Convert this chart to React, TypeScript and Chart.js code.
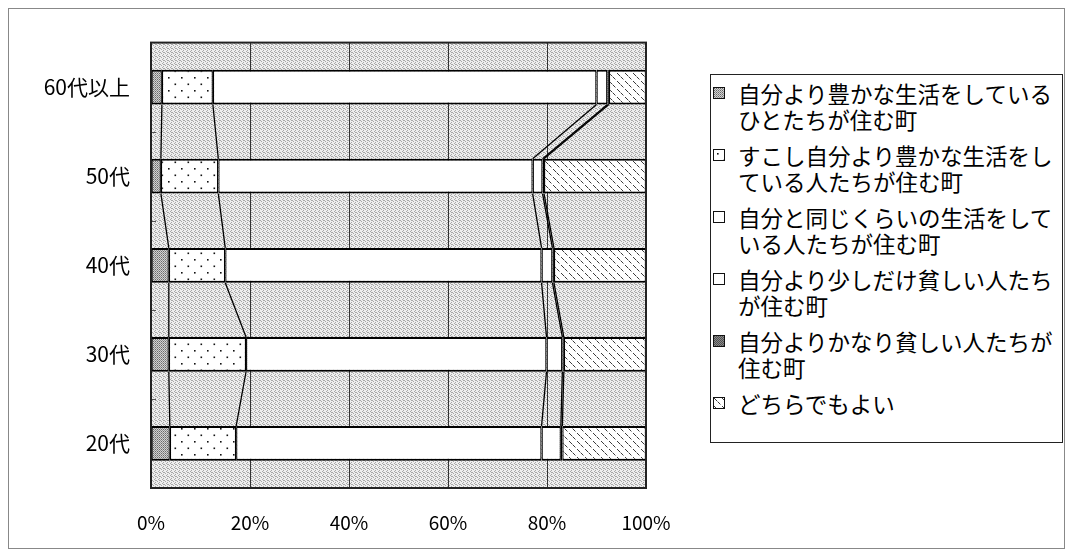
import React, { useEffect, useMemo, useRef } from "react";
import { Chart, registerables } from "chart.js";

Chart.register(...registerables);

// Age groups, top to bottom
const AGE_GROUPS = ["60代以上", "50代", "40代", "30代", "20代"];

// Share of answers per age group (%)
const MUCH_RICHER = [2.2, 2.0, 3.6, 3.6, 3.8];
const SOMEWHAT_RICHER = [10.3, 11.6, 11.4, 15.6, 13.4];
const SIMILAR = [77.5, 63.5, 63.9, 60.7, 61.7];
const SLIGHTLY_POORER = [2.2, 2.0, 2.2, 3.2, 3.9];
const MUCH_POORER = [0.3, 0.3, 0.3, 0.3, 0.3];
const NO_PREFERENCE = [7.5, 20.6, 18.6, 16.6, 16.9];

const SERIES_NAMES = [
  "自分より豊かな生活をしている\nひとたちが住む町",
  "すこし自分より豊かな生活をし\nている人たちが住む町",
  "自分と同じくらいの生活をして\nいる人たちが住む町",
  "自分より少しだけ貧しい人たち\nが住む町",
  "自分よりかなり貧しい人たちが\n住む町",
  "どちらでもよい",
];

const X_TICK_LABELS = ["0%", "20%", "40%", "60%", "80%", "100%"];

const CJK = "'Noto Sans CJK JP', sans-serif";

type Tiles = Record<string, HTMLCanvasElement>;

function tile(w: number, h: number, paint: (c: CanvasRenderingContext2D) => void) {
  const cv = document.createElement("canvas");
  cv.width = w;
  cv.height = h;
  const c = cv.getContext("2d")!;
  paint(c);
  return cv;
}

function px(c: CanvasRenderingContext2D, color: string, pts: number[][]) {
  c.fillStyle = color;
  pts.forEach(([x, y]) => c.fillRect(x, y, 1, 1));
}

function makeTiles(): Tiles {
  return {
    plot: tile(4, 4, (c) => {
      c.fillStyle = "#eeeeee";
      c.fillRect(0, 0, 4, 4);
      px(c, "#a8a8a8", [[0, 0], [2, 1], [1, 2], [3, 3], [2, 3]]);
    }),
    muchRicher: tile(2, 2, (c) => {
      c.fillStyle = "#d2d2d2";
      c.fillRect(0, 0, 2, 2);
      px(c, "#6a6a6a", [[0, 0]]);
      px(c, "#909090", [[1, 1]]);
    }),
    somewhatRicher: tile(13, 13, (c) => {
      c.fillStyle = "#ffffff";
      c.fillRect(0, 0, 13, 13);
      c.fillStyle = "#111";
      c.fillRect(3, 3, 1.6, 1.6);
      c.fillRect(9.5, 9.5, 1.6, 1.6);
    }),
    white: tile(2, 2, (c) => {
      c.fillStyle = "#ffffff";
      c.fillRect(0, 0, 2, 2);
    }),
    muchPoorer: tile(2, 2, (c) => {
      c.fillStyle = "#8a8a8a";
      c.fillRect(0, 0, 2, 2);
      px(c, "#505050", [[0, 0], [1, 1]]);
    }),
    noPreference: tile(8, 8, (c) => {
      c.fillStyle = "#ffffff";
      c.fillRect(0, 0, 8, 8);
      px(c, "#3a3a3a", [[0, 0], [1, 1], [2, 2], [4, 4], [5, 5]]);
      px(c, "#a8a8a8", [[3, 3], [6, 6]]);
    }),
  };
}

const SERIES_TILES = ["muchRicher", "somewhatRicher", "white", "white", "muchPoorer", "noPreference"];
const SERIES_VALUES = [MUCH_RICHER, SOMEWHAT_RICHER, SIMILAR, SLIGHTLY_POORER, MUCH_POORER, NO_PREFERENCE];

export default function App() {
  const canvasRef = useRef<HTMLCanvasElement | null>(null);
  const tiles = useMemo(() => makeTiles(), []);

  useEffect(() => {
    const canvas = canvasRef.current;
    if (!canvas) return;
    const ctx = canvas.getContext("2d")!;
    const pat = (k: string) => ctx.createPattern(tiles[k], "repeat")!;

    // Textured plot background
    const plotBackground = {
      id: "plotBackground",
      beforeDraw(chart: any) {
        const { ctx: c, chartArea: a } = chart;
        c.save();
        c.fillStyle = pat("plot");
        c.fillRect(a.left, a.top, a.right - a.left, a.bottom - a.top);
        c.restore();
      },
    };

    // Series lines joining segment ends of neighbouring bars, plus frame
    const seriesLines = {
      id: "seriesLines",
      afterDatasetsDraw(chart: any) {
        const { ctx: c, chartArea: a } = chart;
        c.save();
        c.strokeStyle = "#000";
        c.lineWidth = 1.3;
        for (let d = 0; d < SERIES_VALUES.length - 1; d++) {
          const els = chart.getDatasetMeta(d).data;
          for (let i = 0; i < els.length - 1; i++) {
            const p = els[i].getProps(["x", "y", "height"], true);
            const q = els[i + 1].getProps(["x", "y", "height"], true);
            c.beginPath();
            c.moveTo(p.x, p.y + p.height / 2);
            c.lineTo(q.x, q.y - q.height / 2);
            c.stroke();
          }
        }
        // short inner ticks between categories
        const ys = chart.getDatasetMeta(0).data.map((e: any) => e.getProps(["y"], true).y);
        c.strokeStyle = "#555";
        c.lineWidth = 1;
        for (let i = 0; i < ys.length - 1; i++) {
          const y = Math.round((ys[i] + ys[i + 1]) / 2) + 0.5;
          c.beginPath();
          c.moveTo(a.left, y);
          c.lineTo(a.left + 5, y);
          c.stroke();
        }
        c.strokeStyle = "#222";
        c.lineWidth = 2;
        c.strokeRect(a.left, a.top, a.right - a.left, a.bottom - a.top);
        c.restore();
      },
    };

    const chart = new Chart(canvas, {
      type: "bar",
      data: {
        labels: AGE_GROUPS,
        datasets: SERIES_VALUES.map((vals, i) => ({
          label: SERIES_NAMES[i],
          data: vals,
          backgroundColor: pat(SERIES_TILES[i]),
          borderColor: "#000",
          borderWidth: { top: 2, bottom: 2, left: 1.3, right: 1.3 },
          borderSkipped: false,
          barPercentage: 0.39,
          categoryPercentage: 1,
        })),
      },
      options: {
        indexAxis: "y",
        animation: false,
        responsive: false,
        devicePixelRatio: 1,
        layout: { padding: { top: 19, right: 418, bottom: 0, left: 0 } },
        plugins: { legend: { display: false }, tooltip: { enabled: false } },
        scales: {
          x: {
            stacked: true,
            min: 0,
            max: 100,
            ticks: {
              stepSize: 20,
              padding: 23,
              color: "#000",
              font: { family: CJK, size: 19 },
              callback: (_v: any, i: number) => X_TICK_LABELS[i],
            },
            grid: { color: "#333", lineWidth: 1, drawTicks: false },
            border: { display: false },
            afterFit: (s: any) => {
              s.height = 60;
            },
          },
          y: {
            stacked: true,
            ticks: { padding: 21, color: "#000", font: { family: CJK, size: 21 } },
            grid: { display: false, drawTicks: false },
            border: { display: false },
            afterFit: (s: any) => {
              s.width = 142;
            },
          },
        },
      } as any,
      plugins: [plotBackground, seriesLines],
    });
    return () => chart.destroy();
  }, [tiles]);

  return (
    <div
      style={{
        position: "relative",
        width: 1057,
        height: 541,
        border: "1px solid #888",
        boxSizing: "border-box",
        background: "#fff",
      }}
    >
      <canvas ref={canvasRef} width={1055} height={539} style={{ display: "block", width: 1055, height: 539 }} />
      <div
        style={{
          position: "absolute",
          left: 701,
          top: 65,
          width: 353,
          height: 369,
          border: "1px solid #222",
          boxSizing: "border-box",
          paddingTop: 5,
          fontFamily: CJK,
          fontSize: 22.5,
          lineHeight: "26px",
          color: "#000",
          background: "#fff",
        }}
      >
        {SERIES_NAMES.map((name, i) => (
          <div key={i} style={{ display: "flex", alignItems: "flex-start", marginBottom: 10 }}>
            <div
              style={{
                width: 12,
                height: 12,
                marginLeft: 2,
                marginTop: 7,
                border: "1px solid #111",
                boxSizing: "border-box",
                flex: "none",
                backgroundImage: `url(${tiles[SERIES_TILES[i]].toDataURL()})`,
              }}
            />
            <div style={{ marginLeft: 13, whiteSpace: "pre" }}>{name}</div>
          </div>
        ))}
      </div>
    </div>
  );
}
